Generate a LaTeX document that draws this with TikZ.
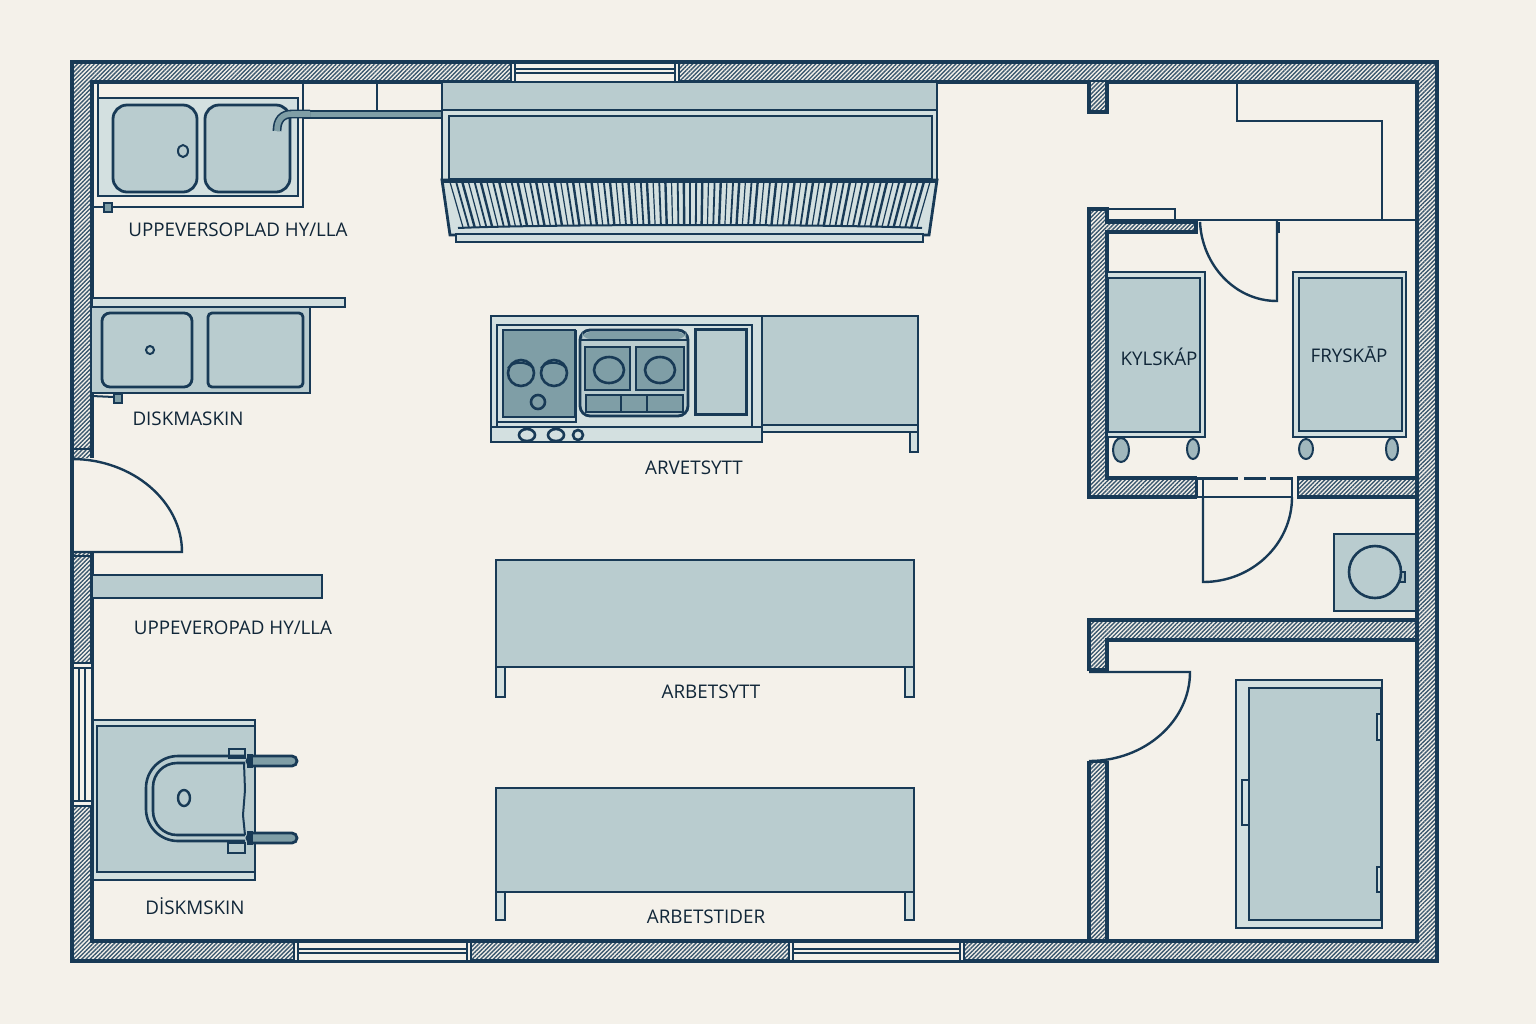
\documentclass[tikz,border=0pt]{standalone}
\usepackage{fontspec}
\setmainfont{Open Sans}
\usepackage{tikz}
\usetikzlibrary{patterns.meta}

\definecolor{paper}{HTML}{F4F1EA}
\definecolor{ink}{HTML}{183A56}
\definecolor{steel}{HTML}{B9CCCF}
\definecolor{pale}{HTML}{D3E0E0}
\definecolor{hob}{HTML}{7F9EA6}

\tikzset{
  wall/.style={draw=ink,line width=1.7pt,preaction={fill=paper},
    pattern={Lines[angle=45,distance=1.5pt,line width=.7pt]},pattern color=ink!85},
  thinline/.style={draw=ink,line width=1pt},
  unit/.style={draw=ink,line width=1.4pt,fill=steel},
  frame/.style={draw=ink,line width=1.4pt,fill=pale},
  hobpart/.style={draw=ink,line width=1.4pt,fill=hob},
  lbl/.style={font=\fontsize{9.4}{12}\selectfont,text=ink!65!black,inner sep=0pt}
}

\begin{document}
\begin{tikzpicture}[x=0.5pt,y=-0.5pt]
\pgfmathsetmacro{\WL}{72}
\pgfmathsetmacro{\WR}{1437}
\pgfmathsetmacro{\WT}{62}
\pgfmathsetmacro{\WB}{961}
\pgfmathsetmacro{\T}{20}
\pgfmathsetmacro{\NSLAT}{78}
\pgfmathsetmacro{\DSLAT}{480/\NSLAT}

\fill[paper] (0,0) rectangle (1536,1024);
\useasboundingbox (0,0) rectangle (1536,1024);

\path[wall,even odd rule] (\WL,\WT) rectangle (\WR,\WB) (\WL+\T,\WT+\T) rectangle (\WR-\T,\WB-\T);

% inner walls
\path[wall] (1089,82) -- (1089,112) -- (1107,112) -- (1107,82);
\path[wall] (1197,478) -- (1107,478) -- (1107,232) -- (1196,232) -- (1196,222) -- (1107,222) -- (1107,209)
  -- (1089,209) -- (1089,497) -- (1197,497) -- cycle;
\path[wall] (1297,478) -- (1417,478) -- (1417,497) -- (1297,497) -- cycle;
\path[wall] (1417,620) -- (1089,620) -- (1089,670) -- (1107,670) -- (1107,640) -- (1417,640) -- cycle;
\path[wall] (1089,761) -- (1107,761) -- (1107,941) -- (1089,941) -- cycle;

% windows
\foreach \xa/\xb/\ya/\yb/\ym in {510/680/62/82/71,293/472/941/961/951,788/965/941/961/951} {
\fill[paper] (\xa,\ya) rectangle (\xb,\yb);
\draw[thinline,line width=1.5pt] (\xa,\ya) -- (\xb,\ya) (\xa,\yb) -- (\xb,\yb);
\draw[thinline] (\xa+1,\ya) -- (\xa+1,\yb) (\xa+5,\ya) -- (\xa+5,\yb) (\xb-1,\ya) -- (\xb-1,\yb) (\xb-5,\ya) -- (\xb-5,\yb);
\draw[thinline,line width=1.2pt] (\xa+5,\ym-2) -- (\xb-5,\ym-2) (\xa+5,\ym+2) -- (\xb-5,\ym+2);
}
\fill[paper] (\WL,663) rectangle (92,806);
\draw[thinline,line width=1.5pt] (\WL,663) -- (\WL,806) (92,663) -- (92,806);
\draw[thinline] (\WL,663) -- (92,663) (\WL,668) -- (92,668) (\WL,801) -- (92,801) (\WL,806) -- (92,806);
\draw[thinline] (79,668) -- (79,801) (85,668) -- (85,801);

% doors
\fill[paper] (\WL,458) rectangle (94,552);
\draw[thinline,line width=1.5pt] (\WL,452) -- (\WL,556);
\draw[thinline] (\WL,449) -- (92,449) (\WL,556) -- (92,556);
\draw[thinline,line width=1.2pt] (\WL,552) -- (182,552) .. controls (182,501) and (132,459) .. (\WL,459);
\fill[paper] (1087,671) rectangle (1109,761);
\draw[thinline,line width=1.2pt] (1089,672) -- (1190,672) .. controls (1190,721) and (1145,761) .. (1089,761);
\fill[paper] (1197,476) rectangle (1297,499);
\draw[thinline] (1197,478) -- (1197,497) (1203,478) -- (1203,497);
\draw[thinline,line width=1.5pt] (1197,478) -- (1238,478) (1244,478) -- (1266,478) (1270,478) -- (1292,478);
\draw[thinline] (1292,477) -- (1292,497) (1197,497) -- (1292,497);
\draw[thinline,line width=1.2pt] (1203,497) -- (1203,582) .. controls (1252,582) and (1292,544) .. (1292,497);
\draw[thinline,line width=1.2pt] (1200,222) .. controls (1202,265) and (1235,301) .. (1277,301) -- (1277,220);
\draw[thinline] (1279,222) -- (1279,233);

% thin partitions
\draw[thinline] (1107,209) -- (1175,209) -- (1175,220);
\draw[thinline] (1107,220) -- (1417,220);
\draw[thinline] (1237,82) -- (1237,121) -- (1382,121) -- (1382,220);

% upper sink
\draw[thinline,line width=1.3pt] (303,82) -- (303,207) -- (92,207);
\draw[thinline] (98,82) -- (98,98);
\draw[frame] (98,98) rectangle (298,196);
\draw[unit,rounded corners=7pt] (113,105) rectangle (197,192);
\draw[unit,rounded corners=7pt] (205,105) rectangle (290,192);
\draw[thinline] (183,151) ellipse (5 and 6);
\draw[thinline,fill=hob] (104,203) rectangle (112,212);
\draw[thinline] (377,82) -- (377,111);
\draw[thinline,line width=1.3pt,fill=hob] (305,111) rectangle (442,118);
\draw[ink,line width=4.4pt] (310,114) -- (292,114) .. controls (282,114) and (277,120) .. (277,131);
\draw[hob,line width=2.8pt] (310,114) -- (292,114) .. controls (282,114) and (277,120) .. (277,131);

% lower sink
\draw[frame] (92,298) rectangle (345,307);
\draw[unit] (92,307) -- (310,307) -- (310,393) -- (92,393);
\draw[unit,rounded corners=4pt] (102,313) -- (192,313) -- (192,387) -- (102,387) -- cycle;
\draw[unit,rounded corners=2pt] (208,313) rectangle (303,387);
\draw[thinline] (150,350) circle (4);
\draw[thinline] (92,396) -- (114,397);
\draw[thinline,fill=hob] (114,394) rectangle (122,403);

% hood
\draw[unit] (442,82) rectangle (937,110);
\draw[frame] (442,110) rectangle (937,180);
\draw[unit] (449,116) rectangle (932,179);
\draw[frame] (442,180) -- (937,180) -- (929,235) -- (450,235) -- cycle;
\draw[thinline] (442,182) -- (937,182);
\foreach \i in {0,...,\NSLAT} {
\pgfmathsetmacro{\XT}{450+\i*\DSLAT}
\pgfmathsetmacro{\XB}{690+(\XT-690)*0.945}
\pgfmathsetmacro{\YB}{225+3*((\XB-690)/227)^2}
\pgfmathsetmacro{\LW}{0.6+0.3*mod(\i,3)}
\draw[ink,line width=\LW pt] (\XT,182) -- (\XB,\YB);
}
\draw[thinline] (458,228) .. controls (550,224) and (830,224) .. (922,228);
\draw[frame] (456,234) rectangle (923,242);

% range
\draw[frame] (491,316) rectangle (762,442);
\draw[thinline] (491,427) -- (762,427);
\draw[thinline,line width=1.3pt] (497,325) rectangle (752,427);
\draw[thinline,line width=1.3pt] (497,325) -- (497,422) -- (576,422) -- (576,330);
\draw[hobpart] (503,330) rectangle (575,417);
\foreach \xc in {521,554} {
\draw[thinline,line width=1.3pt] (\xc,373) circle (13);
\draw[thinline] (\xc-13,368) .. controls (\xc-8,361) and (\xc+6,361) .. (\xc+12,368);
}
\draw[thinline,line width=1.3pt] (538,402) circle (7);
\draw[unit,rounded corners=5pt] (580,330) rectangle (688,416);
\fill[hob,rounded corners=4pt] (582,332) rectangle (686,339);
\draw[thinline] (581,340) -- (687,340);
\foreach \xa/\xb/\xc in {585/630/609,636/684/660} {
\draw[hobpart] (\xa,347) rectangle (\xb,390);
\draw[thinline,line width=1.3pt] (\xc,370) ellipse (15 and 13);
}
\draw[hobpart,line width=1pt] (586,395) rectangle (683,412);
\draw[thinline] (621,395) -- (621,412) (647,395) -- (647,412);
\draw[unit,line width=1.5pt] (695,329) rectangle (746,414);
\draw[thinline,line width=1.3pt] (527,435) ellipse (8 and 6) (556,435) ellipse (8 and 6) (578,435) circle (5);
\draw[unit] (762,316) rectangle (918,425);
\draw[frame] (762,425) rectangle (918,432);
\draw[frame] (910,432) rectangle (918,452);

% tables
\foreach \ya/\yb/\yc in {560/667/697,788/892/920} {
\draw[frame] (496,\yb) rectangle (505,\yc);
\draw[frame] (905,\yb) rectangle (914,\yc);
\draw[unit] (496,\ya) rectangle (914,\yb);
}

% shelf
\draw[unit] (92,575) rectangle (322,598);

% dish machine
\draw[frame] (93,720) rectangle (255,880);
\draw[unit] (97,726) -- (255,726) -- (255,872) -- (97,872) -- cycle;
\draw[thinline] (229,749) rectangle (245,758) (228,843) rectangle (245,853);
\draw[thinline,line width=1.3pt,rounded corners=16pt] (245,756) -- (146,756) -- (146,841) -- (245,841);
\draw[thinline,line width=1.3pt,rounded corners=12pt] (245,763) -- (153,763) -- (153,835) -- (245,835);
\draw[thinline] (244,763) -- (245,790) -- (243,815) -- (245,835);
\draw[thinline,line width=1.2pt] (184,798) ellipse (6 and 8);
\foreach \yc in {761,838} {
\draw[hobpart,rounded corners=2.5pt] (247,\yc-5) rectangle (297,\yc+5);
\draw[thinline,fill=ink] (248,\yc-6) rectangle (252,\yc+6);
}

% fridge and freezer
\foreach \xc/\yc/\ra/\rb in {1121/450/8/12,1193/449/6/10,1306/449/7/10,1392/449/6/11} {
\draw[thinline,fill=hob!60!pale] (\xc,\yc) ellipse [x radius=\ra,y radius=\rb];
}
\draw[frame] (1107,272) rectangle (1205,437);
\draw[unit] (1108,278) rectangle (1200,432);
\draw[frame] (1293,272) rectangle (1406,437);
\draw[unit] (1299,278) rectangle (1402,431);

% small unit by the wall
\draw[unit] (1334,534) rectangle (1416,611);
\draw[thinline,fill=hob!60!pale] (1400,572) rectangle (1405,582);
\draw[thinline,line width=1.3pt,fill=steel] (1375,572) circle (26);

% large cabinet
\draw[frame] (1236,680) rectangle (1382,928);
\draw[unit] (1249,688) rectangle (1381,920);
\draw[frame] (1242,780) rectangle (1249,825);
\draw[thinline,fill=pale] (1377,714) rectangle (1381,740) (1377,867) rectangle (1381,892);

\node[lbl] (sinklabel) at (238,230) {UPPEVERSOPLAD HY/LLA};
\node[lbl] (washlabel) at (188,419) {DISKMASKIN};
\node[lbl] (shelflabel) at (233,628) {UPPEVEROPAD HY/LLA};
\node[lbl] (machlabel) at (195,906) {DİSKMSKIN};
\node[lbl] (rangelabel) at (694,468) {ARVETSYTT};
\node[lbl] (tablelabel) at (711,692) {ARBETSYTT};
\node[lbl] (lowerlabel) at (706,917) {ARBETSTIDER};
\node[lbl] (fridgelabel) at (1159,357) {KYLSKÁP};
\node[lbl] (freezerlabel) at (1349,355) {FRYSKĀP};
\end{tikzpicture}
\end{document}
